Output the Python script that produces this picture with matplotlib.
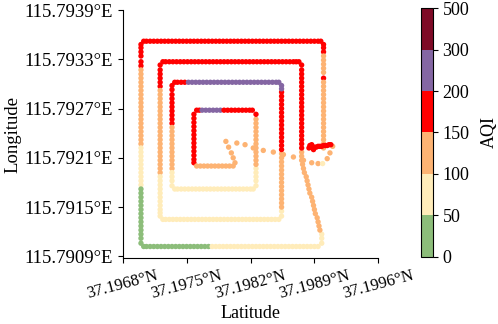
import numpy as np
import matplotlib
matplotlib.use("Agg")
import matplotlib.pyplot as plt
from matplotlib.colors import ListedColormap, BoundaryNorm
from matplotlib.cm import ScalarMappable

plt.rcParams['font.family'] = ['Liberation Serif', 'DejaVu Serif']
plt.rcParams['font.size'] = 13

LAT0 = 37.19
LON0 = 115.79

# AQI level used for each colour class
G, Y, O, R, P = 40, 80, 125, 175, 250

# ---- outer loop ----
outer_top_lon = 352
outer_top_lat = [703, 706, 710, 714, 718, 722, 726, 730, 734, 738, 742, 746, 750, 754, 758, 762, 766,
                 770, 774, 778, 782, 786, 790, 794, 798, 802, 806, 810, 814, 818, 822, 826, 830, 834,
                 838, 842, 846, 850, 854, 858, 862, 866, 870, 874, 878, 882, 886, 890, 894, 897]
outer_top_aqi = [R] * 50

outer_right_lat = 900
outer_right_lon = [348, 344, 339, 334, 329, 324, 319, 314, 307, 302, 297, 292, 287, 282, 277, 272, 267,
                   262, 257, 252, 247, 242, 237, 232, 227, 222]
outer_right_aqi = [R] * 3 + [O] * 5 + [R] + [O] * 17

outer_left_lat = 700
outer_left_lon = [348, 344, 339, 334, 327, 322, 317, 312, 307, 302, 297, 292, 287, 282, 277, 272, 267,
                  262, 257, 252, 247, 242, 237, 232, 227, 222, 217, 212, 207, 202, 197, 192, 187, 182,
                  177, 172, 167, 162, 157, 152, 147, 142, 137, 132, 127, 122, 117, 112, 106]
outer_left_aqi = [R] * 6 + [O] * 19 + [Y] * 10 + [G] * 14

outer_bottom_lon = 102
outer_bottom_lat = [703, 706, 710, 714, 718, 722, 726, 730, 734, 738, 742, 746, 750, 754, 758, 762, 766,
                    770, 774, 778, 782, 786, 790, 794, 798, 802, 806, 810, 814, 818, 822, 826, 830, 834,
                    838, 842, 846, 850, 854, 858, 862, 866, 870, 874, 878, 882, 886, 890, 894]
outer_bottom_aqi = [G] * 19 + [Y] * 30

outer_se_lat = 898
outer_se_lon = [106, 112, 117]
outer_se_aqi = [Y] * 3

diag_lat = [896, 895, 894, 893, 891, 890, 889, 888, 887, 885, 884, 883, 882, 881, 879, 878, 877]
diag_lon = [122, 127, 132, 137, 142, 147, 152, 157, 162, 167, 172, 177, 182, 187, 192, 197, 202]
diag_aqi = [O] * 17

# ---- second loop ----
ring2_right_lat = 876
ring2_right_lon = [207, 212, 217, 222, 227, 232, 237, 242, 247, 252, 257, 262, 267, 272, 277, 282, 287,
                   292, 297, 302, 307, 312, 317, 323]
ring2_right_aqi = [O] * 3 + [R] * 21

ring2_top_lon = 327
ring2_top_lat = [724, 727, 731, 735, 739, 743, 747, 751, 755, 759, 763, 767, 771, 775, 779, 783, 787,
                 791, 795, 799, 803, 807, 811, 815, 819, 823, 827, 831, 835, 839, 843, 847, 851, 855,
                 859, 863, 867, 870, 873]
ring2_top_aqi = [R] * 39

ring2_left_lat = 721
ring2_left_lon = [323, 317, 312, 307, 302, 297, 292, 287, 282, 277, 272, 267, 262, 257, 252, 247, 242,
                  237, 232, 227, 222, 217, 212, 207, 202, 197, 192, 187, 182, 177, 172, 167, 162, 157,
                  152, 147, 143, 139]
ring2_left_aqi = [R] * 6 + [O] * 21 + [Y] * 11

ring2_bottom_lon = 135
ring2_bottom_lat = [724, 727, 731, 735, 739, 743, 747, 751, 755, 759, 763, 767, 771, 775, 779, 783, 787,
                    791, 795, 799, 803, 807, 811, 815, 819, 823, 827, 831, 835, 839, 843, 847, 851]
ring2_bottom_aqi = [Y] * 33

# ---- third loop ----
ring3_right_lat = 854
ring3_right_lon = [139, 145, 150, 155, 160, 165, 170, 175, 180, 185, 190, 195, 200, 205, 210, 215, 220,
                   225, 230, 235, 240, 245, 250, 255, 260, 265, 270, 275, 280, 285, 290, 294, 298]
ring3_right_aqi = [Y] * 2 + [O] * 14 + [R] * 15 + [P] * 2

ring3_top_lon = 302
ring3_top_lat = [737, 740, 744, 748, 752, 756, 760, 764, 768, 772, 776, 780, 784, 788, 792, 796, 800,
                 804, 808, 812, 816, 820, 824, 828, 832, 836, 840, 844, 848, 851]
ring3_top_aqi = [R] * 4 + [P] * 26

ring3_left_lat = 734
ring3_left_lon = [298, 293, 287, 282, 277, 272, 267, 262, 257, 252, 247, 242, 237, 232, 227, 222, 217,
                  212, 207, 202, 197, 192, 187, 182, 176]
ring3_left_aqi = [R] * 10 + [O] * 11 + [Y] * 4

ring3_bottom_lon = 172
ring3_bottom_lat = [737, 740, 744, 748, 752, 756, 760, 764, 768, 772, 776, 780, 784, 788, 792, 796, 800,
                    804, 808, 812, 816, 820, 823]
ring3_bottom_aqi = [Y] * 23

# ---- inner loop ----
ring4_right_lat = 826
ring4_right_lon = [176, 182, 187, 192, 197, 202, 207, 212, 217, 222, 227, 232, 237, 242, 247, 252, 257, 263]
ring4_right_aqi = [Y] * 5 + [O] * 12 + [R]

ring4_top_lon = 268
ring4_top_lat = [761, 764, 767, 771, 775, 779, 783, 787, 791, 795, 799, 803, 807, 811, 815, 819, 822]
ring4_top_aqi = [R] * 2 + [P] * 6 + [R] * 9

ring4_left_lat = 758
ring4_left_lon = [263, 258, 253, 248, 243, 238, 233, 228, 223, 218, 213, 208, 204]
ring4_left_aqi = [R] * 13

ring4_bottom_lon = 200
ring4_bottom_lat = [761, 765, 769, 773, 777, 781, 785, 789, 793, 797, 801]
ring4_bottom_aqi = [O] * 11

hook_lat = [803, 801, 799, 796, 793]
hook_lon = [204, 210, 216, 223, 230]
hook_aqi = [O] * 5

transit_lat = [805, 814, 823, 834, 845, 856, 867, 878, 887, 894, 899, 904, 907, 910]
transit_lon = [228, 226, 222, 219, 217, 214, 211, 207, 204, 203, 203, 209, 216, 224]
transit_aqi = [O] * 10 + [Y] + [O] * 3

hover_lat = [884, 885, 886, 887, 888, 889, 890, 892, 894, 896, 898, 900, 902, 904, 906, 908]
hover_lon = [222, 225, 223, 226, 222, 220, 223, 223, 224, 224, 224, 225, 225, 225, 226, 226]
hover_aqi = [R] * 16

# ---- colour scale ----
aqi_bounds = [0, 50, 100, 150, 200, 300, 500]
aqi_colors = ['#8cbd7a', '#ffecba', '#fdb373', '#ff0000', '#8466a3', '#7e0a26']

x_ticks = [37.1968, 37.1975, 37.1982, 37.1989, 37.1996]
y_ticks = [115.7909, 115.7915, 115.7921, 115.7927, 115.7933, 115.7939]

# ---------------------------------------------------------------
lat_all, lon_all, aqi_all = [], [], []


def add(lats, lons, aqis):
    n = len(aqis)
    lats = np.full(n, lats) if np.isscalar(lats) else np.asarray(lats)
    lons = np.full(n, lons) if np.isscalar(lons) else np.asarray(lons)
    lat_all.append(lats)
    lon_all.append(lons)
    aqi_all.append(np.asarray(aqis))


add(outer_top_lat, outer_top_lon, outer_top_aqi)
add(outer_right_lat, outer_right_lon, outer_right_aqi)
add(outer_left_lat, outer_left_lon, outer_left_aqi)
add(outer_bottom_lat, outer_bottom_lon, outer_bottom_aqi)
add(outer_se_lat, outer_se_lon, outer_se_aqi)
add(diag_lat, diag_lon, diag_aqi)
add(ring2_right_lat, ring2_right_lon, ring2_right_aqi)
add(ring2_top_lat, ring2_top_lon, ring2_top_aqi)
add(ring2_left_lat, ring2_left_lon, ring2_left_aqi)
add(ring2_bottom_lat, ring2_bottom_lon, ring2_bottom_aqi)
add(ring3_right_lat, ring3_right_lon, ring3_right_aqi)
add(ring3_top_lat, ring3_top_lon, ring3_top_aqi)
add(ring3_left_lat, ring3_left_lon, ring3_left_aqi)
add(ring3_bottom_lat, ring3_bottom_lon, ring3_bottom_aqi)
add(ring4_right_lat, ring4_right_lon, ring4_right_aqi)
add(ring4_top_lat, ring4_top_lon, ring4_top_aqi)
add(ring4_left_lat, ring4_left_lon, ring4_left_aqi)
add(ring4_bottom_lat, ring4_bottom_lon, ring4_bottom_aqi)
add(hook_lat, hook_lon, hook_aqi)
add(transit_lat, transit_lon, transit_aqi)
add(hover_lat, hover_lon, hover_aqi)

lat = LAT0 + np.concatenate(lat_all) * 1e-5
lon = LON0 + np.concatenate(lon_all) * 1e-5
aqi = np.concatenate(aqi_all)

cmap = ListedColormap(aqi_colors)
norm = BoundaryNorm(aqi_bounds, cmap.N)

fig = plt.figure(figsize=(4.98, 3.24), dpi=100)
ax = fig.add_axes([0.2464, 0.2037, 0.5133, 0.7654])
ax.scatter(lat, lon, c=aqi, cmap=cmap, norm=norm, s=15, linewidths=0)

ax.set_xlim(37.1968, 37.1996)
ax.set_ylim(115.79088, 115.7939)
ax.set_xticks(x_ticks)
ax.set_xticklabels([f"{v:.4f}°N" for v in x_ticks], rotation=15, fontsize=12)
ax.set_yticks(y_ticks)
ax.set_yticklabels([f"{v:.4f}°E" for v in y_ticks], fontsize=13.5)
ax.spines['top'].set_visible(False)
ax.spines['right'].set_visible(False)
ax.set_xlabel("Latitude", fontsize=13, labelpad=2)
ax.set_ylabel("Longitude", fontsize=13.5, labelpad=2)

cax = fig.add_axes([0.8448, 0.2077, 0.0241, 0.7667])
cb = fig.colorbar(ScalarMappable(norm=norm, cmap=cmap), cax=cax, ticks=aqi_bounds, spacing='uniform')
cb.ax.tick_params(labelsize=13)
cb.set_label("AQI", fontsize=13, labelpad=8)

fig.savefig("out.png", dpi=100)
